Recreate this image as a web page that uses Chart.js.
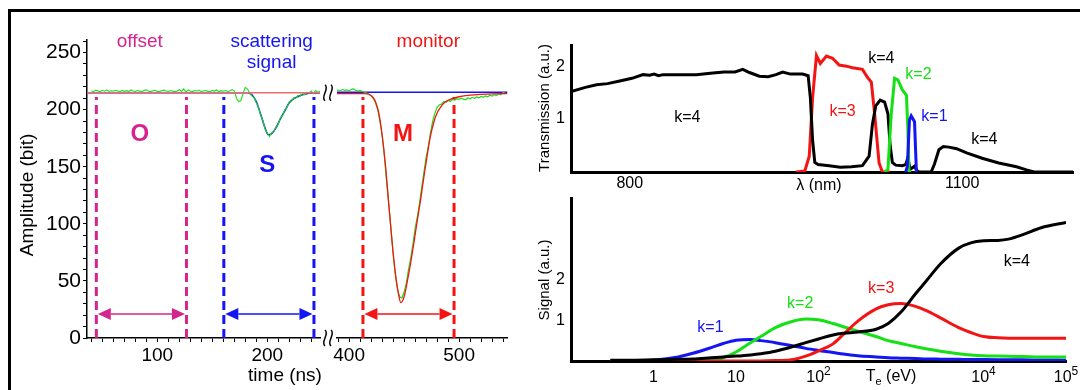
<!DOCTYPE html>
<html lang="en">
<head>
<meta charset="UTF-8">
<title>Scattering signal and filter channels</title>
<script src="https://cdn.jsdelivr.net/npm/chart.js@4"></script>
<style>
  html, body { margin: 0; background: #fff; }
  #figure { position: relative; width: 1080px; height: 390px; overflow: hidden; }
  #figure canvas { position: absolute; left: 0; top: 0; }
  #frame { position: absolute; left: 8px; top: 9px; width: 1100px; height: 400px;
           border-top: 3px solid #000; border-left: 3px solid #000; }
</style>
</head>
<body>
<div id="figure">
  <div id="frame"></div>
  <canvas id="scatChart" width="1080" height="390"></canvas>
  <canvas id="monChart" width="1080" height="390"></canvas>
  <canvas id="transChart" width="1080" height="390"></canvas>
  <canvas id="signalChart" width="1080" height="390"></canvas>
</div>

<script>
// ---- left panel: raw trace (green), fits, gates ----
const tGreenScat = [40, 42, 44, 46, 48, 50, 52, 54, 56, 58, 60, 62, 64, 66, 68, 70, 72, 74, 76, 78,
  80, 82, 84, 86, 88, 90, 92, 94, 96, 98, 100, 102, 104, 106, 108, 110, 112, 114, 116, 118,
  120, 122, 124, 126, 128, 130, 132, 134, 136, 138, 140, 142, 144, 146, 148, 150, 152, 154, 156, 158,
  160, 162, 164, 166, 168, 170, 172, 174, 176, 178, 180, 182, 184, 186, 188, 190, 192, 194, 196, 198,
  200, 202, 204, 206, 208, 210, 212, 214, 216, 218, 220, 222, 224, 226, 228, 230, 232, 234, 236, 238,
  240, 242, 244, 246, 248];
const ampGreenScat = [216.4, 215.8, 217.1, 216.3, 215.6, 216.9, 216.2, 217.3, 215.9, 216.5,
  216.1, 217.0, 216.4, 215.7, 216.8, 216.0, 216.6, 215.8, 217.2, 216.3,
  215.9, 216.7, 216.2, 215.6, 216.9, 217.4, 216.1, 215.8, 216.5, 216.9,
  216.0, 215.7, 216.6, 217.1, 216.3, 215.9, 216.8, 216.2, 215.6, 216.4,
  217.5, 216.0, 218.2, 215.4, 217.3, 216.1, 215.8, 216.7, 216.3, 217.0,
  215.9, 216.4, 216.8, 216.0, 215.6, 216.9, 216.3, 217.2, 215.8, 216.6,
  216.1, 216.7, 215.9, 216.4, 217.6, 216.5,
  210, 207, 208, 214, 219.5, 218, 214.5, 212, 210.5, 206,
  202.5, 195, 190.5, 183, 179.5, 176.5, 179.8, 180.5, 185, 187.2,
  193, 194.8, 200, 202, 206.8, 207.2, 210.3, 210, 212.4, 211.8,
  214, 213, 215.2, 214.4, 216.3, 214.1, 216.8, 215, 216.2];
const tFitScat = [36, 182, 186, 190, 194, 198, 201, 204, 208, 212, 216, 220, 224, 228, 232, 236, 240, 248];
const ampFitScat = [214.7, 214.7, 213, 207, 196, 184, 178, 179, 184, 192, 199, 206, 209.5, 211.5, 213, 214, 214.5, 214.7];
const tBaseScat = [36, 248];
const ampBaseScat = [214.9, 214.9];

const tGreenMon = [388, 390, 392, 394, 396, 398, 400, 402, 404, 406, 408, 410, 412, 414,
  416, 418, 420, 422, 424, 426, 428, 430, 432, 434, 436, 438, 440, 442, 444, 446, 448, 450,
  452, 454, 456, 458, 460, 462, 464, 466, 468, 470, 472, 474, 476, 478, 480, 482, 484, 486,
  488, 490, 492, 494, 496, 498, 500, 502, 504, 506, 508, 510, 512, 514, 516, 518, 520, 522,
  524, 526, 528, 530, 532, 534, 536, 538, 540, 542];
const ampGreenMon = [216.5, 217.2, 216.8, 217.6, 216.9, 217.3, 216.4, 217.8, 218.1, 217.0, 216.2, 216.8, 215.9, 215.2,
  214.6, 213.5, 212, 210, 206, 200, 190, 178, 160, 138, 118, 96, 74, 56, 43, 36, 35, 40,
  48, 60, 70, 82, 96, 106, 118, 132, 145, 158, 168, 180, 190, 197, 202, 204, 205, 207,
  206.5, 208, 207.2, 209, 208.3, 209.6, 208.8, 210.1, 209.2, 208.7, 210.4, 209.5, 210.8, 209.9, 211.2, 210.3, 211.6, 210.8,
  212.1, 211.3, 212.6, 211.8, 213.2, 212.4, 213.9, 213.0, 215.1, 214.4];
const tFitMon = [389, 414, 418, 421, 424, 427, 430, 433, 436, 439, 442, 445, 447, 450, 453, 456, 459, 462, 465,
  468, 471, 474, 477, 480, 483, 487, 491, 495, 500, 510, 520, 530, 544];
const ampFitMon = [214, 214, 213.5, 211.5, 207, 197, 178, 152, 118, 85, 57, 38, 31, 36, 50, 66, 84, 103, 121,
  141, 160, 177, 189, 197, 202, 206.5, 208.5, 210, 211.3, 212.7, 213.4, 213.8, 214];
const tBaseMon = [389, 544];
const ampBaseMon = [215.2, 215.2];

const gateOffset = [44.5, 126.5];
const gateScat = [160.5, 242.5];
const gateMon = [412.6, 495.4];
const gateTop = 211;
const arrowLevel = 21;

const ampTicks = [0, 50, 100, 150, 200, 250];
const timeTicksA = [100, 200];
const timeTicksB = [400, 500];

// ---- right top: filter transmission vs wavelength ----
const lamK4 = [747, 760, 770, 780, 791, 802, 812, 818, 822, 826, 830, 840, 860, 875, 885, 895, 902, 908, 917, 925,
  932, 938, 945, 956, 961, 963, 965, 967, 970, 980, 990, 1000, 1010, 1016, 1019, 1022, 1026, 1030, 1033, 1035,
  1037, 1040, 1046, 1049, 1051, 1053, 1055, 1057, 1059, 1061, 1072, 1075, 1079, 1083, 1088, 1095, 1104, 1118, 1133, 1149,
  1158, 1165, 1200];
const transK4 = [1.52, 1.6, 1.65, 1.67, 1.72, 1.77, 1.84, 1.83, 1.85, 1.82, 1.84, 1.84, 1.84, 1.87, 1.89, 1.89, 1.94, 1.88, 1.81, 1.8,
  1.84, 1.89, 1.85, 1.85, 1.82, 1.4, 0.6, 0.18, 0.14, 0.12, 0.09, 0.1, 0.12, 0.3, 0.9, 1.25, 1.36, 1.32, 1.1, 0.5,
  0.18, 0.13, 0.12, 0.14, 0.27, 0.05, 0.08, 0.11, 0.03, 0, 0, 0.15, 0.42, 0.48, 0.47, 0.44, 0.36, 0.26, 0.17, 0.1,
  0.04, 0, 0];
const lamK3 = [950, 958, 962, 965, 968.5, 972, 977.5, 983, 989, 995.5, 1001, 1010, 1014.5, 1018, 1021, 1025, 1028, 1035];
const transK3 = [0, 0.02, 0.3, 1.4, 2.2, 2.05, 2.19, 2.15, 2.02, 2.0, 1.97, 1.94, 1.79, 1.7, 1.1, 0.17, 0, 0];
const lamK2 = [1030, 1033, 1036, 1039, 1042, 1046, 1049.7, 1051, 1052, 1054];
const transK2 = [0, 0.05, 1.1, 1.77, 1.74, 1.55, 1.45, 0.8, 0, 0];
const lamK1 = [1049, 1050.5, 1052.4, 1054, 1057, 1058.7, 1060];
const transK1 = [0, 0.1, 0.98, 1.06, 0.95, 0, 0];
const lambdaTicks = [800, 1100];
const transTicks = [1, 2];

// ---- right bottom: channel signal vs electron temperature ----
const teValues = [0.3, 0.5, 1, 2, 3, 5, 7, 10, 15, 20, 30, 50, 70, 100, 150, 200, 300, 500, 700, 1000,
  1500, 2000, 3000, 5000, 7000, 10000, 15000, 20000, 30000, 50000, 100000];
const sigK1 = [0, 0, 0.02, 0.1, 0.19, 0.33, 0.43, 0.51, 0.53, 0.5, 0.45, 0.37, 0.31, 0.26, 0.21, 0.17, 0.13, 0.1, 0.08, 0.07,
  0.06, 0.05, 0.045, 0.04, 0.037, 0.035, 0.032, 0.03, 0.028, 0.025, 0.02];
const sigK2 = [0, 0, 0, 0, 0, 0.01, 0.08, 0.22, 0.45, 0.6, 0.82, 0.98, 1.03, 1.01, 0.92, 0.84, 0.73, 0.6, 0.5, 0.43,
  0.35, 0.3, 0.24, 0.18, 0.15, 0.13, 0.12, 0.115, 0.11, 0.1, 0.1];
const sigK3 = [0, 0, 0, 0, 0, 0, 0, 0, 0, 0, 0.01, 0.04, 0.12, 0.25, 0.42, 0.65, 0.98, 1.28, 1.38, 1.41,
  1.34, 1.24, 1.06, 0.82, 0.7, 0.6, 0.57, 0.56, 0.56, 0.56, 0.56];
const sigK4 = [0.02, 0.02, 0.03, 0.04, 0.05, 0.08, 0.1, 0.12, 0.15, 0.18, 0.24, 0.36, 0.45, 0.54, 0.64, 0.68, 0.71, 0.78, 0.92, 1.2,
  1.65, 1.95, 2.38, 2.77, 2.9, 2.95, 2.96, 2.99, 3.1, 3.27, 3.4];
const teTicks = [1, 10, 100, 10000, 100000];
const teTickBase = ['1', '10', '10', '10', '10'];
const teTickExp = ['', '', '2', '4', '5'];
const signalTicks = [1, 2, 3];
const signalTickLabels = ['1', '2', ''];

const FONT = "'Liberation Sans', Arial, Helvetica, sans-serif";
const MAGENTA = '#d6248f', BLUE = '#1414f5', RED = '#f51414', GREEN = '#16e016', BLACK = '#000';

Chart.defaults.font.family = FONT;
Chart.defaults.color = BLACK;
Chart.defaults.animation = false;
Chart.defaults.responsive = false;
Chart.defaults.plugins.legend.display = false;
Chart.defaults.plugins.tooltip.enabled = false;

function series(xs, ys, color, width, extra) {
  return Object.assign({
    data: xs.map((x, i) => ({ x, y: ys[i] })),
    borderColor: color, borderWidth: width, pointRadius: 0, fill: false, tension: 0
  }, extra || {});
}

function gateLine(x, color) {
  return series([x, x], [0, gateTop], color, 3, { borderDash: [9, 5] });
}

// tick marks every `step` (labels chosen separately)
function marks(a, b, step) {
  const out = [];
  for (let v = a; v <= b; v += step) out.push({ value: v });
  return out;
}

function drawArrow(ctx, x1, x2, y, color) {
  const head = 13, half = 6;
  ctx.save();
  ctx.strokeStyle = color; ctx.fillStyle = color; ctx.lineWidth = 1.5;
  ctx.beginPath(); ctx.moveTo(x1 + head, y); ctx.lineTo(x2 - head, y); ctx.stroke();
  ctx.beginPath(); ctx.moveTo(x1, y); ctx.lineTo(x1 + head, y - half); ctx.lineTo(x1 + head, y + half); ctx.closePath(); ctx.fill();
  ctx.beginPath(); ctx.moveTo(x2, y); ctx.lineTo(x2 - head, y - half); ctx.lineTo(x2 - head, y + half); ctx.closePath(); ctx.fill();
  ctx.restore();
}

function drawBreak(ctx, x, y) {
  ctx.save();
  ctx.strokeStyle = BLACK; ctx.lineWidth = 1.5;
  [x - 3, x + 3].forEach(cx => {
    ctx.beginPath();
    ctx.moveTo(cx, y - 8);
    ctx.bezierCurveTo(cx + 5, y - 4, cx - 5, y + 4, cx, y + 8);
    ctx.stroke();
  });
  ctx.restore();
}

function notesPlugin(notes, extra) {
  return {
    id: 'notes',
    afterDraw(chart) {
      const ctx = chart.ctx, sx = chart.scales.x, sy = chart.scales.y;
      if (extra) extra(chart, ctx, sx, sy);
      notes.forEach(n => {
        const px = n.abs ? n.x : sx.getPixelForValue(n.x);
        const py = n.abs ? n.y : sy.getPixelForValue(n.y);
        ctx.save();
        ctx.translate(px, py);
        if (n.rot) ctx.rotate(n.rot);
        ctx.fillStyle = n.color || BLACK;
        ctx.textBaseline = 'middle';
        const main = `${n.bold ? 'bold ' : ''}${n.size}px ${FONT}`;
        if (n.sub) {
          const small = `${Math.round(n.size * 0.7)}px ${FONT}`;
          ctx.font = main;
          const w1 = ctx.measureText(n.text).width, w3 = ctx.measureText(n.tail).width;
          ctx.font = small;
          const w2 = ctx.measureText(n.sub).width;
          const x0 = -(w1 + w2 + w3) / 2;
          ctx.textAlign = 'left';
          ctx.font = main; ctx.fillText(n.text, x0, 0);
          ctx.font = small; ctx.fillText(n.sub, x0 + w1, n.size * 0.32);
          ctx.font = main; ctx.fillText(n.tail, x0 + w1 + w2, 0);
        } else {
          ctx.font = main;
          ctx.textAlign = 'center';
          ctx.fillText(n.text, 0, 0);
        }
        ctx.restore();
      });
    }
  };
}

// power-of-ten labels under the log axis
function drawPowerLabels(ctx, sx, y) {
  const big = `16px ${FONT}`, small = `12px ${FONT}`;
  ctx.save();
  ctx.fillStyle = BLACK;
  ctx.textBaseline = 'middle';
  ctx.textAlign = 'left';
  teTicks.forEach((v, i) => {
    ctx.font = big;
    const wb = ctx.measureText(teTickBase[i]).width;
    ctx.font = small;
    const we = teTickExp[i] ? ctx.measureText(teTickExp[i]).width : 0;
    const x0 = sx.getPixelForValue(v) - (wb + we) / 2;
    ctx.font = big;
    ctx.fillText(teTickBase[i], x0, y);
    if (teTickExp[i]) {
      ctx.font = small;
      ctx.fillText(teTickExp[i], x0 + wb, y - 6);
    }
  });
  ctx.restore();
}

const thinAxis = { color: BLACK, width: 1.5 };
const thickAxis = { color: BLACK, width: 3 };
const ampY = {
  min: 0, max: 261,
  afterFit: s => { s.width = 87; },
  afterBuildTicks: s => { s.ticks = marks(0, 260, 10); },
  ticks: { callback: v => ampTicks.includes(v) ? String(v) : '', font: { size: 21 }, padding: 2, autoSkip: false },
  grid: { drawOnChartArea: false, tickLength: 4, color: BLACK, lineWidth: 1 },
  border: thinAxis
};

// scattering part (left of the axis break)
new Chart(document.getElementById('scatChart'), {
  type: 'line',
  data: {
    datasets: [
      series(tBaseScat, ampBaseScat, '#f26a6a', 1.5),
      series(tGreenScat, ampGreenScat, GREEN, 1.1),
      series(tFitScat, ampFitScat, BLUE, 1.5, { cubicInterpolationMode: 'monotone' }),
      gateLine(gateOffset[0], MAGENTA), gateLine(gateOffset[1], MAGENTA),
      gateLine(gateScat[0], BLUE), gateLine(gateScat[1], BLUE)
    ]
  },
  options: {
    layout: { padding: { left: 0, top: 40, right: 760, bottom: 0 } },
    scales: {
      x: {
        type: 'linear', min: 36, max: 248,
        afterFit: s => { s.height = 52; },
        afterBuildTicks: s => { s.ticks = marks(40, 240, 10); },
        ticks: { callback: v => timeTicksA.includes(v) ? String(v) : '', font: { size: 19 }, padding: 2, maxRotation: 0, autoSkip: false },
        grid: { drawOnChartArea: false, tickLength: 4, color: BLACK },
        border: thinAxis
      },
      y: ampY
    }
  },
  plugins: [notesPlugin([
    { text: 'offset', x: 84, y: 259.6, size: 19, color: MAGENTA },
    { text: 'scattering', x: 204, y: 259.6, size: 19, color: BLUE },
    { text: 'signal', x: 204, y: 241.2, size: 19, color: BLUE },
    { text: 'O', x: 84, y: 178, size: 24, bold: true, color: MAGENTA },
    { text: 'S', x: 200, y: 151, size: 24, bold: true, color: BLUE },
    { text: 'time (ns)', abs: true, x: 285, y: 376, size: 19 },
    { text: 'Amplitude (bit)', abs: true, x: 28, y: 195, size: 19, rot: -Math.PI / 2 }
  ], (chart, ctx, sx, sy) => {
    const y = sy.getPixelForValue(arrowLevel);
    drawArrow(ctx, sx.getPixelForValue(gateOffset[0]) + 1.5, sx.getPixelForValue(gateOffset[1]) - 1.5, y, MAGENTA);
    drawArrow(ctx, sx.getPixelForValue(gateScat[0]) + 1.5, sx.getPixelForValue(gateScat[1]) - 1.5, y, BLUE);
    const bx = chart.chartArea.right + 8;
    drawBreak(ctx, bx, sy.getPixelForValue(214.8));
    drawBreak(ctx, bx, chart.chartArea.bottom);
  })]
});

// monitor part (right of the axis break)
new Chart(document.getElementById('monChart'), {
  type: 'line',
  data: {
    datasets: [
      series(tFitMon, ampFitMon, RED, 1.3, { cubicInterpolationMode: 'monotone' }),
      series(tGreenMon, ampGreenMon, GREEN, 1.2),
      series(tBaseMon, ampBaseMon, BLUE, 1.5),
      gateLine(gateMon[0], RED), gateLine(gateMon[1], RED)
    ]
  },
  options: {
    layout: { padding: { left: 337, top: 40, right: 572.5, bottom: 0 } },
    scales: {
      x: {
        type: 'linear', min: 389, max: 544,
        afterFit: s => { s.height = 52; },
        afterBuildTicks: s => { s.ticks = marks(390, 540, 10); },
        ticks: { callback: v => timeTicksB.includes(v) ? String(v) : '', font: { size: 19 }, padding: 2, maxRotation: 0, autoSkip: false },
        grid: { drawOnChartArea: false, tickLength: 4, color: BLACK },
        border: thinAxis
      },
      y: { display: false, min: 0, max: 261 }
    }
  },
  plugins: [notesPlugin([
    { text: 'monitor', x: 472, y: 259.6, size: 19, color: RED },
    { text: 'M', x: 449, y: 178, size: 24, bold: true, color: RED }
  ], (chart, ctx, sx, sy) => {
    drawArrow(ctx, sx.getPixelForValue(gateMon[0]) + 1.5, sx.getPixelForValue(gateMon[1]) - 1.5, sy.getPixelForValue(arrowLevel), RED);
  })]
});

// transmission of the four filter channels
new Chart(document.getElementById('transChart'), {
  type: 'line',
  data: {
    datasets: [
      series(lamK1, transK1, BLUE, 3),
      series(lamK2, transK2, GREEN, 3),
      series(lamK4, transK4, BLACK, 3),
      series(lamK3, transK3, RED, 3)
    ]
  },
  options: {
    layout: { padding: { left: 0, top: 45, right: 7, bottom: 0 } },
    scales: {
      x: {
        type: 'linear', min: 747, max: 1200,
        afterFit: s => { s.height = 218; },
        afterBuildTicks: s => { s.ticks = lambdaTicks.map(v => ({ value: v })); },
        ticks: { callback: v => String(v), font: { size: 16 }, padding: 2, maxRotation: 0, autoSkip: false },
        grid: { display: false, drawTicks: false },
        border: thickAxis
      },
      y: {
        min: 0, max: 2.4,
        afterFit: s => { s.width = 571; },
        afterBuildTicks: s => { s.ticks = transTicks.map(v => ({ value: v })); },
        ticks: { callback: v => String(v), font: { size: 16 }, padding: 6 },
        grid: { display: false, drawTicks: false },
        border: thickAxis
      }
    }
  },
  plugins: [notesPlugin([
    { text: 'k=4', x: 852, y: 1.02, size: 16 },
    { text: 'k=3', x: 992, y: 1.15, size: 16, color: RED },
    { text: 'k=4', x: 1027, y: 2.15, size: 16 },
    { text: 'k=2', x: 1060.5, y: 1.85, size: 16, color: GREEN },
    { text: 'k=1', x: 1075, y: 1.04, size: 16, color: BLUE },
    { text: 'k=4', x: 1120, y: 0.62, size: 16 },
    { text: '\u03BB (nm)', abs: true, x: 819, y: 186, size: 16 },
    { text: 'Transmission (a.u.)', abs: true, x: 545, y: 108, size: 15, rot: -Math.PI / 2 }
  ])]
});

// expected signal of each channel vs electron temperature
new Chart(document.getElementById('signalChart'), {
  type: 'line',
  data: {
    datasets: [
      series(teValues, sigK4, BLACK, 3, { cubicInterpolationMode: 'monotone' }),
      series(teValues, sigK3, RED, 3, { cubicInterpolationMode: 'monotone' }),
      series(teValues, sigK2, GREEN, 3, { cubicInterpolationMode: 'monotone' }),
      series(teValues, sigK1, BLUE, 3, { cubicInterpolationMode: 'monotone' })
    ]
  },
  options: {
    layout: { padding: { left: 0, top: 198, right: 14, bottom: 0 } },
    scales: {
      x: {
        type: 'logarithmic', min: 0.1, max: 100000,
        afterFit: s => { s.height = 29; },
        afterBuildTicks: s => { s.ticks = teTicks.map(v => ({ value: v })); },
        ticks: { callback: () => '', font: { size: 16 }, padding: 7, maxRotation: 0, autoSkip: false },
        grid: { display: false, drawTicks: false },
        border: thickAxis
      },
      y: {
        min: 0, max: 4,
        afterFit: s => { s.width = 571; },
        afterBuildTicks: s => { s.ticks = signalTicks.map(v => ({ value: v })); },
        ticks: { callback: v => signalTickLabels[signalTicks.indexOf(v)] || '', font: { size: 16 }, padding: 6 },
        grid: { display: false, drawTicks: false },
        border: thickAxis
      }
    }
  },
  plugins: [notesPlugin([
    { text: 'k=1', x: 4.9, y: 0.83, size: 16, color: BLUE },
    { text: 'k=2', x: 60, y: 1.41, size: 16, color: GREEN },
    { text: 'k=3', x: 575, y: 1.78, size: 16, color: RED },
    { text: 'k=4', x: 25400, y: 2.44, size: 16 },
    { text: 'T', sub: 'e', tail: ' (eV)', abs: true, x: 891, y: 377, size: 16 },
    { text: 'Signal (a.u.)', abs: true, x: 545, y: 280, size: 15, rot: -Math.PI / 2 }
  ], (chart, ctx, sx) => {
    drawPowerLabels(ctx, sx, 378);
  })]
});
</script>
</body>
</html>
